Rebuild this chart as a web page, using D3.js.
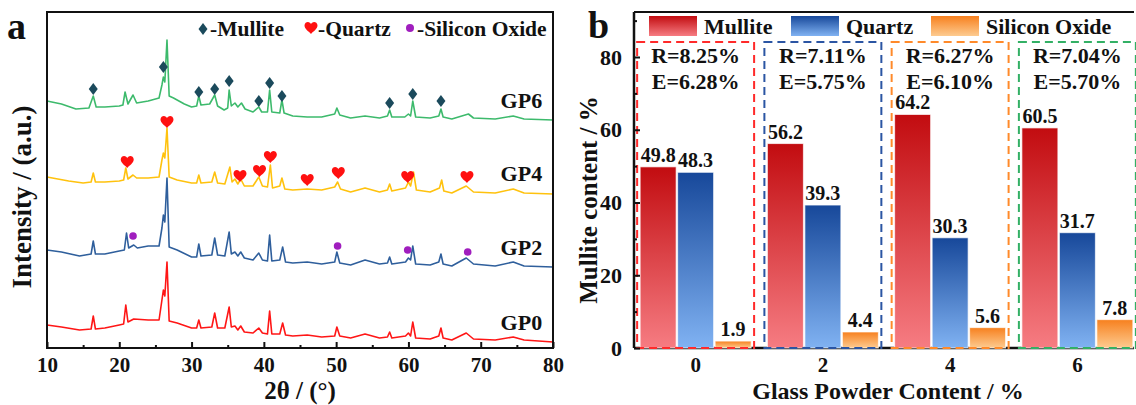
<!DOCTYPE html>
<html>
<head>
<meta charset="utf-8">
<script src="https://cdn.jsdelivr.net/npm/d3@7"></script>
<style>
  body { margin: 0; background: #fff; }
  text { font-family: "Liberation Serif", "Times New Roman", serif; font-weight: bold; fill: #111; }
</style>
</head>
<body>
<svg id="chart" width="1136" height="405"></svg>
<script>
// ---- panel a: XRD patterns, [2theta, intensity (a.u.)] ----
var gp6 = [[10,247],[12,244],[14,239],[15.8,240],[16.4,252],[16.8,241],[18,241],[20,242],[20.5,243],[20.8,256],[21.2,244],[21.9,253],[22.4,245],[24,247],[25.5,250],[25.9,263],[26.1,271],[26.3,266],[26.6,308],[26.9,252],[27.5,250],[28,248],[29,244],[30,241],[30.7,242],[31,252],[31.3,243],[32.5,244],[33.2,253],[33.6,242],[34.5,238],[35,240],[35.2,258],[35.5,242],[36,245],[36.4,241],[36.9,245],[37.4,239],[38.5,236],[39.3,241],[39.7,236],[40.5,236],[40.8,258],[41.1,236],[42.2,235],[42.5,248],[42.8,235],[44,232],[46,231],[48,231],[49.8,234],[50.1,240],[50.5,233],[52,230],[54,232],[56,230],[57.1,232],[57.4,238],[57.7,231],[59.5,231],[60,234],[60.3,232],[60.6,247],[61,231],[63,230],[64.2,232],[64.5,239],[64.8,231],[66,229],[68.3,234],[69,230],[72,229],[74.5,232],[76,229],[80,228]];
var gp4 = [[10,171],[13,167],[15,165],[16.1,166],[16.4,175],[16.7,166],[18,166],[20,167],[20.6,168],[20.9,180],[21.2,169],[21.9,173],[22.4,170],[24,170],[25.5,171],[25.9,188],[26.1,195],[26.3,190],[26.6,220],[26.9,171],[28,168],[30,165],[30.7,165],[31,173],[31.3,165],[32.8,166],[33.2,176],[33.6,165],[34.6,164],[35.3,181],[35.6,166],[36,169],[36.4,164],[36.8,169],[37.3,162],[38.5,162],[39.3,171],[39.8,162],[40.5,161],[40.9,183],[41.2,160],[42.2,162],[42.5,170],[42.9,159],[44,158],[46,159],[48,158],[49.8,161],[50.2,166],[50.6,159],[52,156],[54,160],[56,156],[57.1,158],[57.4,164],[57.7,157],[59.6,160],[60,166],[60.3,162],[60.7,176],[61.1,158],[63,156],[64.3,160],[64.6,168],[64.9,157],[66,155],[68,162],[69,156],[72,155],[74.5,159],[76,155],[80,154]];
var gp2 = [[10,98],[12,96],[14.5,92],[16.1,94],[16.4,107],[16.7,94],[18,94],[20,97],[20.7,98],[21,115],[21.3,100],[22,103],[22.5,100],[24,102],[25.5,102],[25.9,120],[26.1,133],[26.3,126],[26.6,170],[26.9,101],[28,98],[30,91],[30.7,91],[31,104],[31.3,92],[32.8,93],[33.2,110],[33.6,93],[34.6,92],[35.2,116],[35.5,94],[36,96],[36.4,92],[36.8,96],[37.3,90],[38.5,88],[39.3,95],[39.8,88],[40.5,87],[40.8,113],[41.1,87],[42.2,88],[42.6,101],[43,86],[44,85],[46,86],[48,84],[49.8,86],[50.1,96],[50.5,85],[52,83],[54,88],[56,84],[57.1,85],[57.4,91],[57.7,84],[59.6,86],[60,90],[60.3,88],[60.6,102],[61,84],[63,83],[64.2,86],[64.5,94],[64.8,84],[66,82],[68,90],[69,84],[72,82],[74.5,86],[76,82],[80,81]];
var gp0 = [[10,23],[12,21],[14.5,18],[16.1,19],[16.4,32],[16.7,19],[18,20],[20,23],[20.6,24],[20.9,43],[21.2,26],[22,29],[24,28],[25.5,28],[25.9,48],[26.1,58],[26.3,52],[26.6,86],[26.9,27],[28,25],[30,20],[30.7,20],[31,28],[31.3,20],[32.8,21],[33.2,35],[33.6,20],[34.6,20],[35.2,41],[35.5,21],[36,22],[36.4,18],[36.8,22],[37.3,16],[38.5,15],[39.3,20],[39.8,15],[40.5,14],[40.8,37],[41.1,14],[42.2,14],[42.6,25],[43,13],[44,12],[46,13],[48,11],[49.8,12],[50.1,21],[50.5,12],[52,10],[54,14],[56,10],[57.1,11],[57.4,16],[57.7,10],[59.6,12],[60,15],[60.3,12],[60.6,26],[61,10],[63,9],[64.2,12],[64.5,20],[64.8,10],[66,8],[68,15],[69,9],[72,8],[74.5,11],[76,8],[80,6]];

var seriesNames = ['GP6', 'GP4', 'GP2', 'GP0'];
var seriesLabelLevel = [248, 175, 101, 26];

// phase markers
var mulliteMarks = [[16.4,259],[26.1,281],[31,256],[33.2,259],[35.2,267],[39.3,247],[40.8,265],[42.5,252],[57.4,245],[60.6,254],[64.5,247]];
var quartzMarks = [[21.1,186],[26.6,226],[36.7,172],[39.4,177],[40.9,191],[46,168],[50.3,175],[59.9,171],[68.1,171]];
var siliconMarks = [[21.9,112],[50.2,102],[59.9,98],[68.2,96]];

var thetaTicks = [10, 20, 30, 40, 50, 60, 70, 80];
var thetaMinor = [15, 25, 35, 45, 55, 65, 75];

// ---- panel b: phase content ----
var groups = ['0', '2', '4', '6'];
var phases = ['Mullite', 'Quartz', 'Silicon Oxide'];
var mullite = [49.8, 56.2, 64.2, 60.5];
var quartz = [48.3, 39.3, 30.3, 31.7];
var silicon = [1.9, 4.4, 5.6, 7.8];
var rLabels = ['R=8.25%', 'R=7.11%', 'R=6.27%', 'R=7.04%'];
var eLabels = ['E=6.28%', 'E=5.75%', 'E=6.10%', 'E=5.70%'];
var contentTicks = [0, 20, 40, 60, 80];
var contentMinor = [10, 30, 50, 70, 90];

var svg = d3.select('#chart');
var defs = svg.append('defs');

// ================= panel a =================
var pa = {l: 47, r: 553, t: 12, b: 348};
var x = d3.scaleLinear().domain([10, 80]).range([pa.l, pa.r]);
var y = d3.scaleLinear().domain([0, 336]).range([pa.b, pa.t]);
var line = d3.line().x(function(d) { return x(d[0]); }).y(function(d) { return y(d[1]); });

var traceColors = {GP6: '#3dba6c', GP4: '#ffc20e', GP2: '#2f5f9c', GP0: '#ff1616'};
var traces = [['GP6', gp6], ['GP4', gp4], ['GP2', gp2], ['GP0', gp0]];

var ga = svg.append('g');
traces.forEach(function(t) {
  ga.append('path')
    .datum(t[1])
    .attr('d', line)
    .attr('fill', 'none')
    .attr('stroke', traceColors[t[0]])
    .attr('stroke-width', 1.6)
    .attr('stroke-linejoin', 'round');
});

seriesNames.forEach(function(n, i) {
  ga.append('text')
    .attr('x', x(78.5))
    .attr('y', y(seriesLabelLevel[i]))
    .attr('dy', '0.35em')
    .attr('text-anchor', 'end')
    .attr('font-size', 22)
    .text(n);
});

var diamond = 'M0,-6L4.5,0L0,6L-4.5,0Z';
var heart = 'M0,6C-2,3.5 -6.5,1 -6.5,-2.5C-6.5,-5 -4.5,-6 -3.2,-6C-1.5,-6 -0.5,-5 0,-3.8C0.5,-5 1.5,-6 3.2,-6C4.5,-6 6.5,-5 6.5,-2.5C6.5,1 2,3.5 0,6Z';
var diamondColor = '#1b4a5c', heartColor = '#ff1010', dotColor = '#a01ebe';

ga.selectAll('.mul').data(mulliteMarks).enter().append('path')
  .attr('d', diamond)
  .attr('transform', function(d) { return 'translate(' + x(d[0]) + ',' + y(d[1]) + ')'; })
  .attr('fill', diamondColor);
ga.selectAll('.qtz').data(quartzMarks).enter().append('path')
  .attr('d', heart)
  .attr('transform', function(d) { return 'translate(' + x(d[0]) + ',' + y(d[1]) + ')'; })
  .attr('fill', heartColor);
ga.selectAll('.sio').data(siliconMarks).enter().append('circle')
  .attr('cx', function(d) { return x(d[0]); })
  .attr('cy', function(d) { return y(d[1]); })
  .attr('r', 3.8)
  .attr('fill', dotColor);

// legend a
var la = ga.append('g').attr('transform', 'translate(0,28)');
la.append('path').attr('d', diamond).attr('transform', 'translate(203,1)').attr('fill', diamondColor);
la.append('text').attr('x', 210).attr('dy', '0.35em').attr('font-size', 21.5).text('-Mullite');
la.append('path').attr('d', heart).attr('transform', 'translate(311,0)').attr('fill', heartColor);
la.append('text').attr('x', 318).attr('dy', '0.35em').attr('font-size', 21.5).text('-Quartz');
la.append('circle').attr('cx', 410).attr('cy', 0).attr('r', 4).attr('fill', dotColor);
la.append('text').attr('x', 417).attr('dy', '0.35em').attr('font-size', 21.5).text('-Silicon Oxide');

// frame + axis
ga.append('rect')
  .attr('x', pa.l).attr('y', pa.t)
  .attr('width', pa.r - pa.l).attr('height', pa.b - pa.t)
  .attr('fill', 'none').attr('stroke', '#111').attr('stroke-width', 2);

var xAxis = ga.append('g')
  .attr('transform', 'translate(0,' + pa.b + ')')
  .call(d3.axisBottom(x).tickValues(thetaTicks).tickSizeInner(-6).tickSizeOuter(0).tickPadding(9));
ga.append('g')
  .attr('transform', 'translate(0,' + pa.b + ')')
  .call(d3.axisBottom(x).tickValues(thetaMinor).tickSizeInner(-3).tickSizeOuter(0).tickFormat(''));
ga.selectAll('.domain').remove();
ga.selectAll('.tick line').attr('stroke', '#111').attr('stroke-width', 2);
xAxis.selectAll('text').attr('font-size', 21).attr('fill', '#111')
  .style('font-family', '"Liberation Serif", serif').style('font-weight', 'bold');

ga.append('text').attr('x', 300).attr('y', 399).attr('text-anchor', 'middle')
  .attr('font-size', 25).text('2θ / (°)');
ga.append('text')
  .attr('transform', 'translate(31,197) rotate(-90)')
  .attr('text-anchor', 'middle')
  .attr('font-size', 27).text('Intensity / (a.u.)');
ga.append('text').attr('x', 7).attr('y', 39).attr('font-size', 38).text('a');

// ================= panel b =================
var pb = {l: 634, r: 1134, t: 12, b: 348};
var x0 = d3.scaleBand().domain(groups).range([632, 1141]).paddingInner(0.128).paddingOuter(0.064);
var x1 = d3.scaleBand().domain(phases).range([0, x0.bandwidth()]).paddingInner(0.04);
var yb = d3.scaleLinear().domain([0, 80]).range([pb.b, 57]);

var grads = {
  'Mullite': ['#c20c10', '#f67c82'],
  'Quartz': ['#17489a', '#80b2f2'],
  'Silicon Oxide': ['#f7801e', '#fdcb90']
};
phases.forEach(function(p, i) {
  var g = defs.append('linearGradient').attr('id', 'grad' + i)
    .attr('x1', 0).attr('y1', 0).attr('x2', 0).attr('y2', 1);
  g.append('stop').attr('offset', '0%').attr('stop-color', grads[p][0]);
  g.append('stop').attr('offset', '100%').attr('stop-color', grads[p][1]);
});

var gb = svg.append('g');
var table = groups.map(function(g, i) {
  return {group: g, values: [mullite[i], quartz[i], silicon[i]], r: rLabels[i], e: eLabels[i]};
});
var boxColors = ['#ff2a2a', '#2b55a3', '#ff8a2a', '#33b065'];

var grp = gb.selectAll('.grp').data(table).enter().append('g')
  .attr('transform', function(d) { return 'translate(' + x0(d.group) + ',0)'; });

grp.selectAll('rect').data(function(d) { return d.values; }).enter().append('rect')
  .attr('x', function(d, i) { return x1(phases[i]); })
  .attr('y', function(d) { return yb(d); })
  .attr('width', x1.bandwidth())
  .attr('height', function(d) { return yb(0) - yb(d); })
  .attr('fill', function(d, i) { return 'url(#grad' + i + ')'; })
  .attr('stroke', 'rgba(255,255,255,0.7)')
  .attr('stroke-width', 1);

grp.selectAll('.val').data(function(d) { return d.values; }).enter().append('text')
  .attr('x', function(d, i) { return x1(phases[i]) + x1.bandwidth() / 2; })
  .attr('y', function(d) { return yb(d) - 5; })
  .attr('text-anchor', 'middle')
  .attr('font-size', 20)
  .text(function(d) { return d.toFixed(1); });

// dashed boxes
var boxTop = 42;
grp.append('rect')
  .attr('x', -3)
  .attr('y', boxTop)
  .attr('width', x0.bandwidth() + 6)
  .attr('height', pb.b - boxTop)
  .attr('fill', 'none')
  .attr('stroke', function(d, i) { return boxColors[i]; })
  .attr('stroke-width', 2)
  .attr('stroke-dasharray', '8,5');

grp.append('text')
  .attr('x', x0.bandwidth() / 2)
  .attr('y', 63)
  .attr('text-anchor', 'middle')
  .attr('font-size', 22)
  .text(function(d) { return d.r; });
grp.append('text')
  .attr('x', x0.bandwidth() / 2)
  .attr('y', 89)
  .attr('text-anchor', 'middle')
  .attr('font-size', 22)
  .text(function(d) { return d.e; });

// frame lines
gb.append('line').attr('x1', pb.l).attr('x2', pb.r).attr('y1', pb.t).attr('y2', pb.t)
  .attr('stroke', '#111').attr('stroke-width', 2);
gb.append('line').attr('x1', pb.l).attr('x2', pb.l).attr('y1', pb.t).attr('y2', pb.b)
  .attr('stroke', '#111').attr('stroke-width', 2.5);
gb.insert('line', ':first-child').attr('x1', pb.l).attr('x2', pb.r).attr('y1', pb.b).attr('y2', pb.b)
  .attr('stroke', '#111').attr('stroke-width', 2.5);

var yAxisB = gb.append('g').attr('transform', 'translate(' + pb.l + ',0)')
  .call(d3.axisLeft(yb).tickValues(contentTicks).tickSizeInner(-6).tickSizeOuter(0).tickPadding(12));
gb.append('g').attr('transform', 'translate(' + pb.l + ',0)')
  .call(d3.axisLeft(yb).tickValues(contentMinor).tickSizeInner(-3).tickSizeOuter(0).tickFormat(''));
gb.selectAll('.domain').remove();
gb.selectAll('.tick line').attr('stroke', '#111').attr('stroke-width', 2);
yAxisB.selectAll('text').attr('font-size', 22).attr('fill', '#111')
  .style('font-family', '"Liberation Serif", serif').style('font-weight', 'bold');

gb.selectAll('.xlab').data(groups).enter().append('text')
  .attr('x', function(d) { return x0(d) + x0.bandwidth() / 2; })
  .attr('y', 372)
  .attr('text-anchor', 'middle')
  .attr('font-size', 21)
  .text(function(d) { return d; });

gb.append('text').attr('x', 888).attr('y', 399).attr('text-anchor', 'middle')
  .attr('font-size', 24).text('Glass Powder Content / %');
gb.append('text')
  .attr('transform', 'translate(597,200) rotate(-90)')
  .attr('text-anchor', 'middle')
  .attr('font-size', 25).text('Mullite content  / %');
gb.append('text').attr('x', 588).attr('y', 38).attr('font-size', 38).text('b');

// legend b
var lb = gb.append('g').attr('transform', 'translate(0,16)');
var legX = [649, 791, 931];
phases.forEach(function(p, i) {
  lb.append('rect').attr('x', legX[i]).attr('y', 0).attr('width', 48).attr('height', 20)
    .attr('fill', 'url(#grad' + i + ')');
  lb.append('text').attr('x', legX[i] + 55).attr('y', 10).attr('dy', '0.35em')
    .attr('font-size', 22).text(p);
});
</script>
</body>
</html>
